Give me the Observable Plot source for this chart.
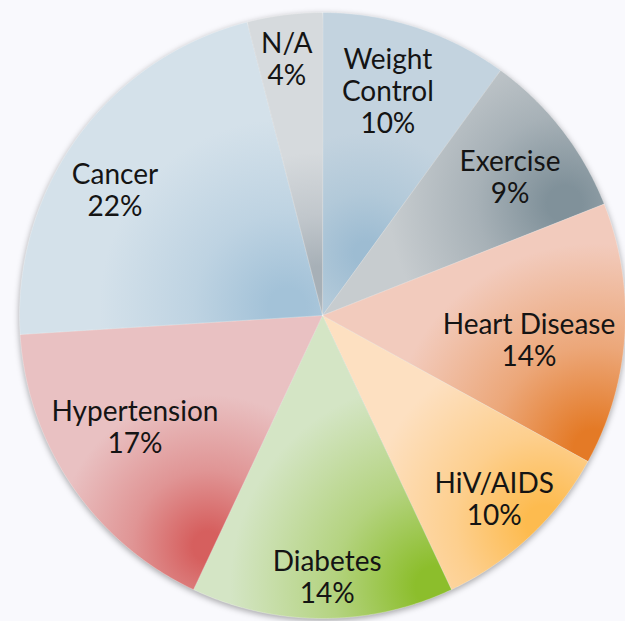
<!DOCTYPE html>
<html><head><meta charset="utf-8">
<script src="https://cdn.jsdelivr.net/npm/d3@7"></script>
<script src="https://cdn.jsdelivr.net/npm/@observablehq/plot@0.6"></script>
<style>
html,body{margin:0;padding:0;background:#f9f9fd;}
#chart{width:625px;height:621px;overflow:hidden;}
</style></head><body><div id="chart"></div>
<script>
// ---- data (clockwise from 12 o'clock) ----
const categories = ["Weight Control","Exercise","Heart Disease","HiV/AIDS","Diabetes","Hypertension","Cancer","N/A"];
const values = [10, 9, 14, 10, 14, 17, 22, 4];
const labelNames = ["Weight\nControl","Exercise","Heart Disease","HiV/AIDS","Diabetes","Hypertension","Cancer","N/A"];

// ---- styles ----
const lightColors = ["#c3d3df","#c7cccf","#f2cbbd","#fde0c1","#d4e5c5","#e9c1c2","#d4e1ea","#d6dadd"];
const darkColors  = ["#9dbcd2","#80919a","#e47a26","#fdbb4f","#8cbe2c","#d65f5e","#a3c2d8","#a7b0b7"];
// gradient spot (fraction of slice angle, fraction of radius, spread as fraction of radius)
const spotAngle  = [0.97, 0.90, 0.95, 0.40, 0.05, 0.02, 0.22, 0.49];
const spotRadius = [0.25, 0.88, 1.00, 1.00, 0.97, 0.85, 0.12, 0.12];
const spotSpread = [0.40, 0.58, 0.68, 0.58, 0.68, 0.50, 0.62, 0.42];
// label placement (fraction of slice angle, fraction of radius)
const labelAngle  = [0.45, 0.54, 0.56, 0.50, 0.48, 0.557, 0.44, 0.45];
const labelRadius = [0.773, 0.770, 0.686, 0.828, 0.863, 0.72, 0.801, 0.856];

const W = 625, H = 621, CX = 322, CY = 315, R = 303;

const arcs = d3.pie().sort(null).startAngle(0).endAngle(2 * Math.PI)(values);

// polygon outline of each slice in unit space (y up)
const slicePts = [];
arcs.forEach((a, i) => {
  slicePts.push({k: i, x: 0, y: 0, fill: `url(#g${i})`});
  const n = Math.max(2, Math.ceil((a.endAngle - a.startAngle) / (Math.PI / 360)));
  for (let j = 0; j <= n; j++) {
    const t = a.startAngle + (a.endAngle - a.startAngle) * j / n;
    slicePts.push({k: i, x: Math.sin(t), y: Math.cos(t), fill: `url(#g${i})`});
  }
});

const labelData = arcs.map((a, i) => {
  const t = a.startAngle + labelAngle[i] * (a.endAngle - a.startAngle);
  return {x: labelRadius[i] * Math.sin(t), y: labelRadius[i] * Math.cos(t), text: labelNames[i] + "\n" + values[i] + "%"};
});

const chart = Plot.plot({
  width: W, height: H,
  margin: 0,
  style: {background: "transparent", overflow: "visible"},
  x: {domain: [-CX / R, (W - CX) / R], axis: null},
  y: {domain: [(CY - H) / R, CY / R], axis: null},
  color: {type: "identity"},
  marks: [
    Plot.line(slicePts, {x: "x", y: "y", z: "k", fill: "fill", curve: "linear-closed",
      stroke: "#ffffff", strokeOpacity: 0.35, strokeWidth: 0.8}),
    Plot.text(labelData, {x: "x", y: "y", text: "text", fontSize: 28, lineHeight: 1.14,
      fill: "#141414", fontFamily: "Lato, 'Liberation Sans', sans-serif", fontWeight: 400})
  ]
});

const xs = chart.scale("x"), ys = chart.scale("y");
const svgSel = d3.select(chart);
const defs = svgSel.insert("defs", ":first-child");
arcs.forEach((a, i) => {
  const t = a.startAngle + spotAngle[i] * (a.endAngle - a.startAngle);
  const cx = xs.apply(spotRadius[i] * Math.sin(t));
  const cy = ys.apply(spotRadius[i] * Math.cos(t));
  const r = Math.abs(xs.apply(spotSpread[i]) - xs.apply(0));
  const g = defs.append("radialGradient").attr("id", "g" + i)
    .attr("gradientUnits", "userSpaceOnUse").attr("cx", cx).attr("cy", cy).attr("r", r);
  const mid = d3.interpolateRgb(darkColors[i], lightColors[i]);
  g.append("stop").attr("offset", 0).attr("stop-color", darkColors[i]);
  g.append("stop").attr("offset", 0.1).attr("stop-color", darkColors[i]);
  g.append("stop").attr("offset", 0.5).attr("stop-color", mid(0.55));
  g.append("stop").attr("offset", 1).attr("stop-color", lightColors[i]);
});
svgSel.select('g[aria-label="line"]').style("filter", "drop-shadow(0px 2px 3px rgba(0,0,0,0.35))");

document.getElementById("chart").appendChild(chart);
</script>
</body></html>
